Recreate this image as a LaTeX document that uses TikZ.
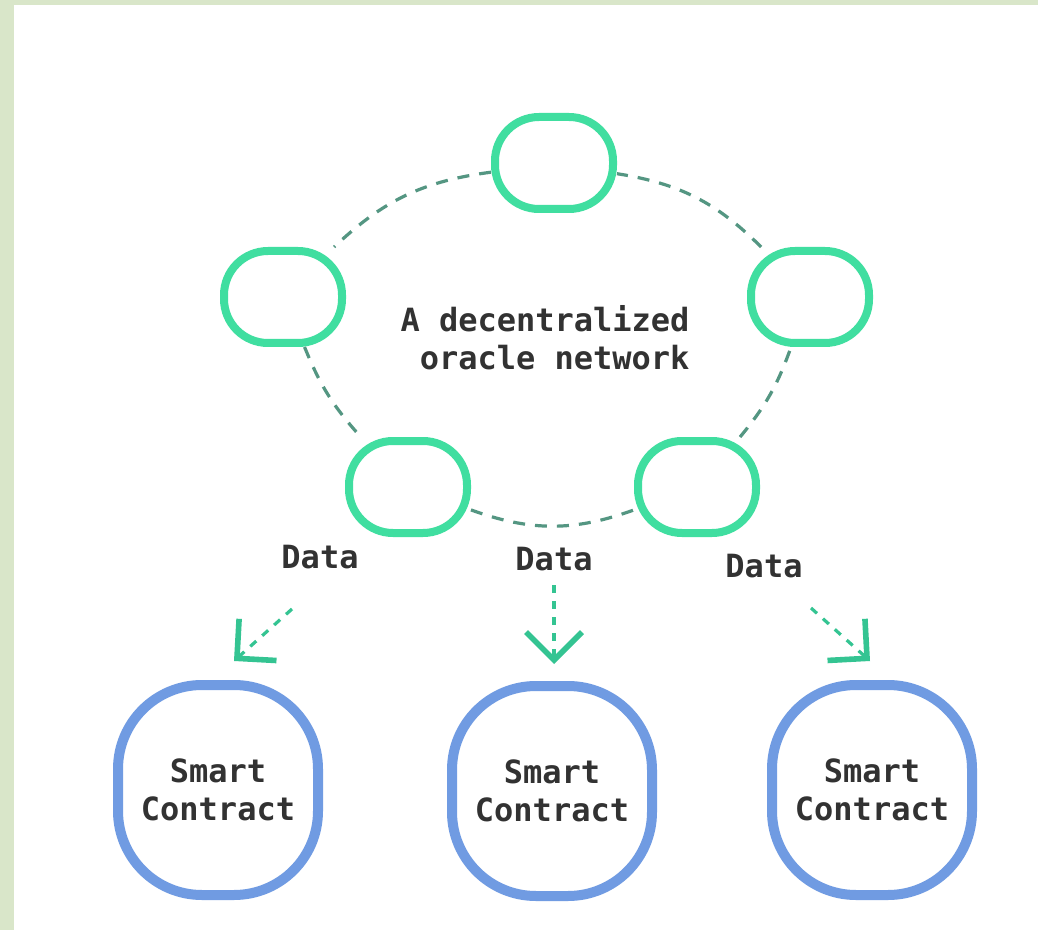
\documentclass[tikz,border=0pt]{standalone}
\usepackage{fontspec}
\setmonofont{DejaVu Sans Mono}
\usetikzlibrary{positioning,arrows.meta}
\definecolor{oraclegreen}{RGB}{64,222,160}
\definecolor{ringgray}{RGB}{84,150,130}
\definecolor{flowgreen}{RGB}{52,196,146}
\definecolor{contractblue}{RGB}{112,155,226}
\definecolor{labelgray}{RGB}{50,50,50}
\definecolor{framegreen}{RGB}{217,230,201}

\begin{document}
\begin{tikzpicture}[x=0.5pt, y=-0.5pt,
        oracle/.style={draw=oraclegreen, line width=4pt, rounded corners=22pt, minimum width=59pt, minimum height=46pt, inner sep=0pt},
        contract/.style={draw=contractblue, line width=5pt, rounded corners=42pt, minimum width=100pt, minimum height=105pt, align=center, font=\ttfamily\bfseries\fontsize{16}{19}\selectfont, text=labelgray},
        ring/.style={draw=ringgray, line width=1.6pt, dash pattern=on 6pt off 5pt},
        flow/.style={draw=flowgreen, line width=1.6pt, dash pattern=on 4pt off 4pt, -{Straight Barb[length=14pt, width=28pt, line width=2.8pt]}},
        lbl/.style={font=\ttfamily\bfseries\fontsize{16}{19}\selectfont, text=labelgray}]
            \fill [framegreen] (0,0) rectangle (1038,930);
            \fill [white] (14,5) rectangle (1038,930);

            % the oracle network
            \node [oracle] (top) at (554,163) {};
            \node [oracle] (left) at (283,297) {};
            \node [oracle] (right) at (810,297) {};
            \node [oracle] (botleft) at (408,487) {};
            \node [oracle] (botright) at (697,487) {};
            \node [lbl, align=right] (net) at (545,338) {A decentralized\\oracle network};

            \draw [ring] (top) to [bend right=18] (left);
            \draw [ring] (left) to [bend right=10] (botleft);
            \draw [ring] (botleft) to [bend right=20] (botright);
            \draw [ring] (botright) to [bend right=10] (right);
            \draw [ring] (right) to [bend right=18] (top);

            % data flow
            \node [lbl] (d1) at (320,557) {Data};
            \node [lbl] (d2) at (554,559) {Data};
            \node [lbl] (d3) at (764,566) {Data};

            \coordinate (f1) at (292,609);
            \coordinate (t1) at (234,661);
            \coordinate (f2) at (554,585);
            \coordinate (t2) at (554,664);
            \coordinate (f3) at (811,608);
            \coordinate (t3) at (870,661);
            \draw [flow] (f1) -- (t1);
            \draw [flow] (f2) -- (t2);
            \draw [flow] (f3) -- (t3);

            % contracts
            \node [contract] (sc1) at (218,790) {Smart\\Contract};
            \node [contract] (sc2) at (552,791) {Smart\\Contract};
            \node [contract] (sc3) at (872,790) {Smart\\Contract};
        \end{tikzpicture}
\end{document}
